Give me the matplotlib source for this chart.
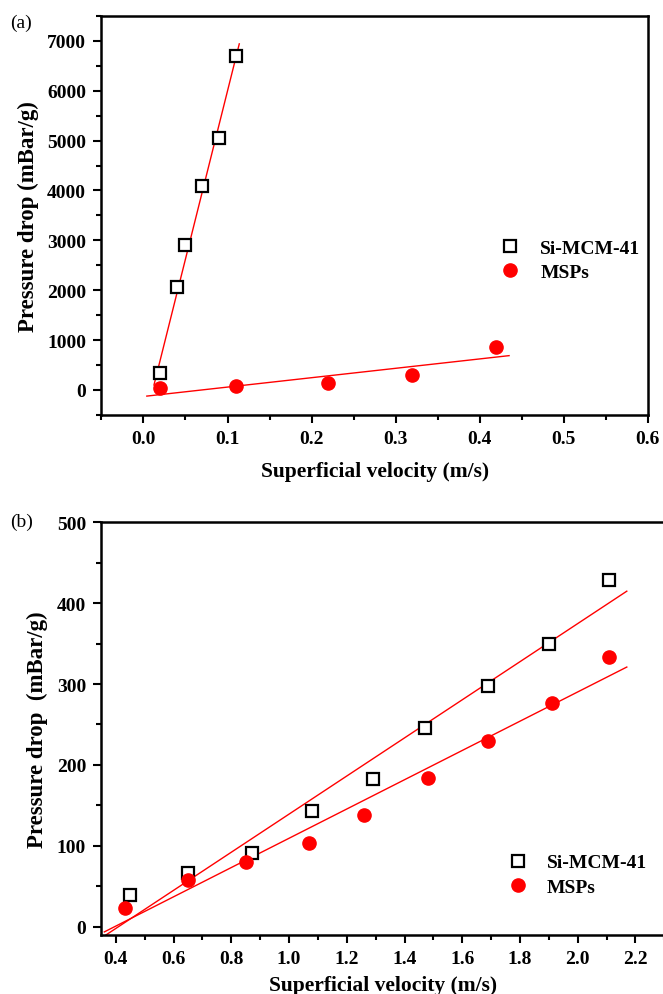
import numpy as np
import matplotlib
matplotlib.use("Agg")
import matplotlib.pyplot as plt

plt.rcParams["font.family"] = ["Liberation Serif", "DejaVu Serif"]
plt.rcParams["font.weight"] = "bold"

# Panel (a) data
a_si_x = [0.02, 0.04, 0.05, 0.07, 0.09, 0.11]
a_si_y = [350, 2060, 2900, 4080, 5060, 6700]
a_msp_x = [0.02, 0.11, 0.22, 0.32, 0.42]
a_msp_y = [30, 70, 130, 310, 860]
a_si_fit_range = [0.0125, 0.114]
a_msp_fit_range = [0.004, 0.435]

# Panel (b) data
b_si_x = [0.45, 0.65, 0.87, 1.08, 1.29, 1.47, 1.69, 1.90, 2.11]
b_si_y = [39, 66, 91, 143, 182, 246, 298, 350, 429]
b_msp_x = [0.43, 0.65, 0.85, 1.07, 1.26, 1.48, 1.69, 1.91, 2.11]
b_msp_y = [23, 58, 80, 104, 138, 184, 230, 276, 334]
b_fit_range = [0.36, 2.17]

fig = plt.figure(figsize=(6.63, 9.95), dpi=100)
ax1 = fig.add_axes([0.153, 0.582, 0.824, 0.401])
ax2 = fig.add_axes([0.153, 0.0596, 0.849, 0.4144])


def draw_panel(ax, sx, sy, mx, my, si_rng, msp_rng):
    for x, y, rng in [(sx, sy, si_rng), (mx, my, msp_rng)]:
        k, b = np.polyfit(x, y, 1)
        xs = np.array(rng)
        ax.plot(xs, k * xs + b, color="red", lw=1.0, zorder=1)
    ax.plot(sx, sy, "s", ms=8, mfc="white", mec="black", mew=1.6,
            ls="none", label="Si-MCM-41", zorder=3)
    ax.plot(mx, my, "o", ms=9.5, color="red", ls="none", label="MSPs", zorder=3)
    for s in ["top", "right", "left", "bottom"]:
        ax.spines[s].set_linewidth(1.8)
    ax.tick_params(which="major", direction="out", length=6, width=1.5,
                   labelsize=14, pad=5, top=False, right=False)
    ax.tick_params(which="minor", direction="out", length=3.5, width=1.5,
                   top=False, right=False)
    for lab in ax.get_xticklabels() + ax.get_yticklabels():
        lab.set_fontweight("bold")


draw_panel(ax1, a_si_x, a_si_y, a_msp_x, a_msp_y, a_si_fit_range, a_msp_fit_range)
ax1.set_xlim(-0.05, 0.6)
ax1.set_ylim(-500, 7500)
ax1.set_xticks(np.arange(0.0, 0.61, 0.1))
ax1.set_xticks(np.arange(-0.05, 0.61, 0.05), minor=True)
ax1.set_yticks(np.arange(0, 7001, 1000))
ax1.set_yticks(np.arange(-500, 7501, 500), minor=True)
ax1.set_xticklabels(["0.0", "0.1", "0.2", "0.3", "0.4", "0.5", "0.6"], fontweight="bold")
ax1.set_xlabel("Superficial velocity (m/s)", fontsize=15.5, fontweight="bold", labelpad=10)
ax1.set_ylabel("Pressure drop (mBar/g)", fontsize=16.5, fontweight="bold", labelpad=6)
ax1.legend(loc="upper left", bbox_to_anchor=(0.695, 0.465), frameon=False,
           fontsize=14, handletextpad=0.55, labelspacing=0.35, borderpad=0)
fig.text(0.015, 0.977, "(a)", fontsize=14, fontweight="normal", va="center")

draw_panel(ax2, b_si_x, b_si_y, b_msp_x, b_msp_y, b_fit_range, b_fit_range)
ax2.set_xlim(0.35, 2.3)
ax2.set_ylim(-10, 500)
ax2.set_xticks(np.arange(0.4, 2.21, 0.2))
ax2.set_xticks(np.arange(0.4, 2.31, 0.1), minor=True)
ax2.set_yticks(np.arange(0, 501, 100))
ax2.set_yticks(np.arange(0, 501, 50), minor=True)
ax2.set_xticklabels(["%.1f" % v for v in np.arange(0.4, 2.21, 0.2)], fontweight="bold")
ax2.set_xlabel("Superficial velocity (m/s)", fontsize=15.5, fontweight="bold", labelpad=6)
ax2.set_ylabel("Pressure drop  (mBar/g)", fontsize=16.5, fontweight="bold", labelpad=6)
ax2.legend(loc="upper left", bbox_to_anchor=(0.689, 0.22), frameon=False,
           fontsize=14, handletextpad=0.45, labelspacing=0.35, borderpad=0)
fig.text(0.015, 0.475, "(b)", fontsize=14, fontweight="normal", va="center")

fig.savefig("out.png", dpi=100)
